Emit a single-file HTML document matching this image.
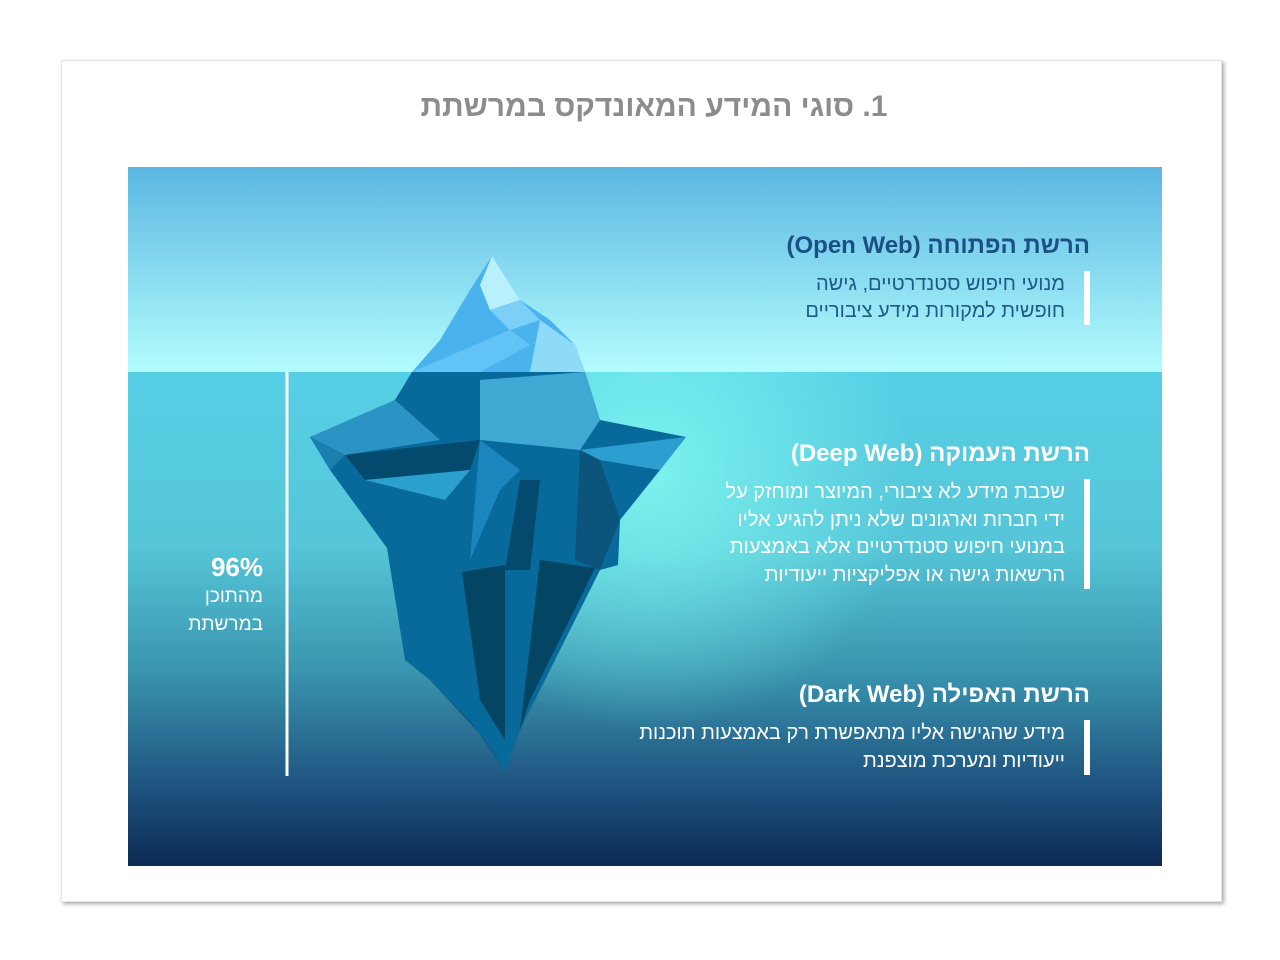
<!DOCTYPE html>
<html><head><meta charset="utf-8"><style>
body{margin:0;width:1280px;height:960px;background:#fff;position:relative;overflow:hidden;font-family:"Liberation Sans","Noto Sans CJK SC",sans-serif}
.card{position:absolute;left:61px;top:60px;width:1159px;height:840px;background:#fff;box-shadow:2px 2px 4px rgba(0,0,0,.35);border:1px solid #e4e4e4}
.title{position:absolute;left:80px;width:1148px;top:90px;text-align:center;font-size:30px;font-weight:bold;color:#8c8c8c;direction:rtl}
.t{position:absolute;right:190px;direction:rtl;text-align:right}
.h{font-size:24px;font-weight:bold}
.p{font-size:20px;line-height:27.5px;padding-right:19px;border-right:6px solid #fff;}
</style></head><body>
<div class="card"></div>
<div class="title">1. סוגי המידע המאונדקס במרשתת</div>
<svg style="position:absolute;left:0;top:0" width="1280" height="960">
<defs>
<linearGradient id="sky" x1="0" y1="0" x2="0" y2="1"><stop offset="0" stop-color="#5bb7e2"/><stop offset="1" stop-color="#b2fcfd"/></linearGradient>
<linearGradient id="sea" x1="0" y1="0" x2="0" y2="1"><stop offset="0" stop-color="#56cfe6"/><stop offset=".35" stop-color="#56c6d8"/><stop offset=".6" stop-color="#3a96b0"/><stop offset=".85" stop-color="#1d507d"/><stop offset="1" stop-color="#0c2b55"/></linearGradient>
<radialGradient id="glow" cx="650" cy="470" r="260" gradientUnits="userSpaceOnUse"><stop offset="0" stop-color="#7ff7f0" stop-opacity=".9"/><stop offset="1" stop-color="#7ff7f0" stop-opacity="0"/></radialGradient>
</defs>
<rect x="128" y="167" width="1034" height="205" fill="url(#sky)"/>
<rect x="128" y="372" width="1034" height="494" fill="url(#sea)"/>
<rect x="128" y="372" width="1034" height="494" fill="url(#glow)"/>
<polygon points="492,256 520,300 550,320 575,345 585,372 412,372 440,340 470,290" fill="#4ab3ee"/>
<polygon points="492,256 520,300 490,310 480,285" fill="#b8f0fd"/>
<polygon points="490,310 520,300 540,320 510,330" fill="#7cd0f8"/>
<polygon points="440,360 510,330 530,345 480,372 412,372" fill="#62c3f6"/>
<polygon points="540,320 575,345 585,372 530,372" fill="#8edbf7"/>
<polygon points="412,372 585,372 600,420 686,437 660,470 620,520 618,565 600,570 520,730 505,772 490,745 430,680 405,660 387,548 330,470 310,437 350,420 395,400" fill="#086a9a"/>
<polygon points="480,380 585,372 600,420 580,450 480,440" fill="#3fa9d4"/>
<polygon points="310,437 395,400 440,440 345,455" fill="#2c93c5"/>
<polygon points="345,455 480,440 470,470 365,480" fill="#044a6e"/>
<polygon points="365,480 470,470 445,500" fill="#2ca0cc"/>
<polygon points="580,450 686,437 660,470 600,460" fill="#2c9fd0"/>
<polygon points="580,450 600,460 620,520 600,570 575,560" fill="#0b557c"/>
<polygon points="480,440 520,470 500,490 470,560" fill="#1a86bd"/>
<polygon points="520,480 540,480 530,570 505,570" fill="#044a6e"/>
<polygon points="462,572 505,565 505,740 480,700" fill="#034563"/>
<polygon points="540,560 595,568 530,700 520,730" fill="#034563"/>
<polygon points="310,437 345,455 330,470" fill="#1b7fae"/>
<polygon points="430,680 490,745 505,772 470,720" fill="#0d5f88"/>
<line x1="287" y1="372" x2="287" y2="776" stroke="#fff" stroke-width="3"/>
</svg>
<div class="t" style="top:232px;color:#1b5085"><div class="h">הרשת הפתוחה (Open Web)</div></div>
<div class="t" style="top:271px;color:#1f5a85"><div class="p" style="line-height:27px">מנועי חיפוש סטנדרטיים, גישה<br>חופשית למקורות מידע ציבוריים</div></div>
<div class="t" style="top:440px;color:#fff"><div class="h">הרשת העמוקה (Deep Web)</div></div>
<div class="t" style="top:479px;color:#fff"><div class="p">שכבת מידע לא ציבורי, המיוצר ומוחזק על<br>ידי חברות וארגונים שלא ניתן להגיע אליו<br>במנועי חיפוש סטנדרטיים אלא באמצעות<br>הרשאות גישה או אפליקציות ייעודיות</div></div>
<div class="t" style="top:681px;color:#fff"><div class="h">הרשת האפילה (Dark Web)</div></div>
<div class="t" style="top:720px;color:#fff"><div class="p">מידע שהגישה אליו מתאפשרת רק באמצעות תוכנות<br>ייעודיות ומערכת מוצפנת</div></div>
<div style="position:absolute;left:150px;width:113px;top:552px;text-align:right;color:#fff;direction:rtl"><div style="font-size:26px;font-weight:bold">96%</div><div style="font-size:19px;line-height:28px">מהתוכן<br>במרשתת</div></div>
</body></html>
